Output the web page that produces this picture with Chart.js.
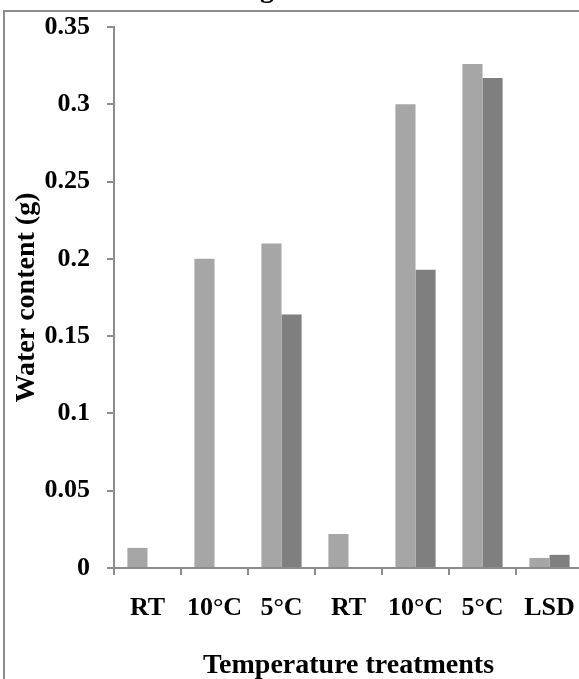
<!DOCTYPE html>
<html lang="en">
<head>
<meta charset="UTF-8">
<title>Water content</title>
<script src="https://cdn.jsdelivr.net/npm/chart.js@4.4.1/dist/chart.umd.min.js"></script>
<style>
    html, body { margin: 0; padding: 0; width: 579px; height: 679px; overflow: hidden; background: #fff; }
    #wrap { position: absolute; left: 0; top: -30px; }
</style>
</head>
<body>
<div id="wrap"><canvas id="waterChart" width="640" height="740"></canvas></div>
<script>
const categories = ['RT', '10°C', '5°C', 'RT', '10°C', '5°C', 'LSD'];
const lightValues = [0.013, 0.200, 0.210, 0.022, 0.300, 0.326, 0.0065];
const darkValues = [null, null, 0.164, null, 0.193, 0.317, 0.0085];
const yTickValues = [0, 0.05, 0.1, 0.15, 0.2, 0.25, 0.3, 0.35];
const xTitle = 'Temperature treatments';
const yTitle = 'Water content (g)';
const topTitleFragment = 'g'; // only the descender of the title shows above the frame

const axisGrey = '#8c8c8c';
const serif = "'Liberation Serif', 'Times New Roman', serif";

// frame around the chart + the clipped chart title
const frameAndTitle = {
    id: 'frameAndTitle',
    beforeDraw(chart) {
        let ctx = chart.ctx;
        ctx.save();
        ctx.fillStyle = '#fff';
        ctx.fillRect(0, 0, chart.width, chart.height);
        ctx.strokeStyle = axisGrey;
        ctx.lineWidth = 2;
        ctx.strokeRect(4, 41, 800, 900);
        ctx.restore();
    },
    afterDraw(chart) {
        let ctx = chart.ctx;
        ctx.save();
        ctx.fillStyle = '#000';
        ctx.textAlign = 'center';
        ctx.textBaseline = 'alphabetic';
        ctx.font = 'bold 28px ' + serif;
        ctx.fillText(topTitleFragment, 267, 27);
        ctx.restore();
    }
};

let ctx = document.getElementById('waterChart').getContext('2d');
new Chart(ctx, {
    type: 'bar',
    data: {
        labels: categories,
        datasets: [
            { data: lightValues, backgroundColor: '#a6a6a6', borderWidth: 0 },
            { data: darkValues, backgroundColor: '#7f7f7f', borderWidth: 0 },
        ]
    },
    options: {
        responsive: false,
        devicePixelRatio: 1,
        animation: false,
        categoryPercentage: 0.6,
        barPercentage: 1.0,
        layout: { padding: { top: 57, right: 57, left: 0, bottom: 0 } },
        plugins: { legend: { display: false }, tooltip: { enabled: false }, title: { display: false } },
        scales: {
            x: {
                offset: true,
                border: { color: axisGrey, width: 2 },
                grid: { offset: true, drawOnChartArea: false, color: axisGrey, lineWidth: 2, tickLength: 7 },
                ticks: {
                    autoSkip: false,
                    maxRotation: 0,
                    padding: 18,
                    color: '#000',
                    font: { family: serif, size: 26, weight: 'bold' },
                },
                title: {
                    display: true,
                    text: xTitle,
                    color: '#000',
                    padding: { top: 0, bottom: 27 },
                    font: { family: serif, size: 28, weight: 'bold' },
                },
                afterFit: (scale) => { scale.height = 142; },
            },
            y: {
                min: 0,
                max: 0.35,
                border: { color: axisGrey, width: 2 },
                grid: { drawOnChartArea: false, color: axisGrey, lineWidth: 2, tickLength: 7 },
                afterBuildTicks: (scale) => { scale.ticks = yTickValues.map(v => ({ value: v })); },
                ticks: {
                    padding: 17,
                    color: '#000',
                    font: { family: serif, size: 26, weight: 'bold' },
                    callback: (v) => String(+v.toFixed(2)),
                },
                title: {
                    display: true,
                    text: yTitle,
                    color: '#000',
                    padding: { top: 10, bottom: 0 },
                    font: { family: serif, size: 28, weight: 'bold' },
                },
                afterFit: (scale) => { scale.width = 114; },
            }
        }
    },
    plugins: [frameAndTitle],
});
</script>
</body>
</html>
